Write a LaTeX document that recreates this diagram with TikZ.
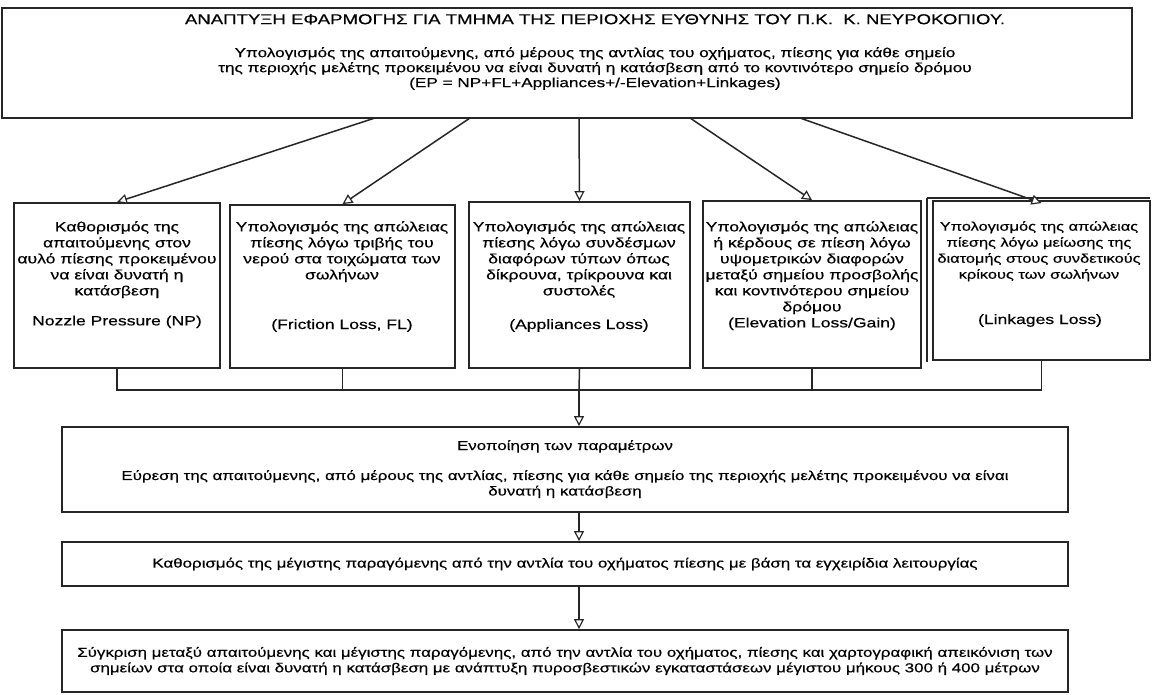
\documentclass[tikz,border=0pt]{standalone}
\usepackage{fontspec}
\setmainfont{Liberation Sans}[FakeStretch=1.3,FakeBold=0.4]
\usetikzlibrary{arrows.meta,fit}
\begin{document}
\begin{tikzpicture}[x=1pt,y=-1pt,
  boxf/.style={draw=black!85,line width=1.8pt,inner sep=0pt,fit={#1}},
  txt/.style={align=center,inner sep=0pt,font=\fontsize{13.5}{16}\selectfont,text=black},
  wide/.style={font=\fontsize{13}{15.5}\selectfont},
  conn/.style={draw=black!85,line width=1.5pt},
  arr/.style={conn,-{Triangle[length=10pt,width=10pt,fill=white,line width=1.2pt]}}]
\useasboundingbox (0,0) rectangle (1152,695);
\fill[white] (0,0) rectangle (1152,695);
% top box
\node[boxf={(2,8) (1132,118)}] (top) {};
\node[txt,anchor=north,font=\fontsize{14.3}{16}\selectfont] (t1) at (595,14) {ΑΝΑΠΤΥΞΗ ΕΦΑΡΜΟΓΗΣ ΓΙΑ ΤΜΗΜΑ ΤΗΣ ΠΕΡΙΟΧΗΣ ΕΥΘΥΝΗΣ ΤΟΥ Π.Κ.\ \ Κ. ΝΕΥΡΟΚΟΠΙΟΥ.};
\node[txt,anchor=north,font=\fontsize{13.2}{15}\selectfont] (t2) at (595,47) {Υπολογισμός της απαιτούμενης, από μέρους της αντλίας του οχήματος, πίεσης για κάθε σημείο\\ της περιοχής μελέτης προκειμένου να είναι δυνατή η κατάσβεση από το κοντινότερο σημείο δρόμου\\ (EP = NP+FL+Appliances+/-Elevation+Linkages)};
% five boxes
\node[boxf={(14,203) (220,368)}] (b1) {};
\node[boxf={(230,205) (455,368)}] (b2) {};
\node[boxf={(469,202) (690,368)}] (b3) {};
\node[boxf={(703,201) (921,368)}] (b4) {};
\draw[black!85,line width=1.2pt] (927,198) -- (1150,198) (927,198) -- (927,362);
\node[boxf={(933,201) (1150,360)}] (b5) {};
\node[txt,anchor=north] (l1) at (117,221) {Καθορισμός της\\ απαιτούμενης στον\\ αυλό πίεσης προκειμένου\\ να είναι δυνατή η\\ κατάσβεση\\[14pt] Nozzle Pressure (NP)};
\node[txt,anchor=north] (l2) at (342,221) {Υπολογισμός της απώλειας\\ πίεσης λόγω τριβής του\\ νερού στα τοιχώματα των\\ σωλήνων};
\node[txt,anchor=base] (m2) at (342,329) {(Friction Loss, FL)};
\node[txt,anchor=north] (l3) at (579,221) {Υπολογισμός της απώλειας\\ πίεσης λόγω συνδέσμων\\ διαφόρων τύπων όπως\\ δίκρουνα, τρίκρουνα και\\ συστολές};
\node[txt,anchor=base] (m3) at (579,329) {(Appliances Loss)};
\node[txt,anchor=north] (l4) at (812,221) {Υπολογισμός της απώλειας\\ ή κέρδους σε πίεση λόγω\\ υψομετρικών διαφορών\\ μεταξύ σημείου προσβολής\\ και κοντινότερου σημείου\\ δρόμου\\ (Elevation Loss/Gain)};
\node[txt,anchor=north,font=\fontsize{12.6}{16}\selectfont] (l5) at (1039,221) {Υπολογισμός της απώλειας\\ πίεσης λόγω μείωσης της\\ διατομής στους συνδετικούς\\ κρίκους των σωλήνων};
\node[txt,anchor=base] (m5) at (1040,324) {(Linkages Loss)};
% arrows from top
\coordinate (s1) at (375,118);
\coordinate (s2) at (470,118);
\coordinate (s3) at (579,118);
\coordinate (s4) at (690,118);
\coordinate (s5) at (800,118);
\draw[arr] (s1) -- (b1.north);
\draw[arr] (s2) -- (b2.north);
\draw[arr] (s3) -- (b3.north);
\draw[arr] (s4) -- (b4.north);
\draw[arr] (s5) -- ([yshift=-3pt]b5.north);
% joiner
\coordinate (j) at (579,390);
\draw[conn] (b1.south) -- (b1.south |- j) -- (b5.south |- j) -- (b5.south);
\draw[conn] (b2.south) -- (b2.south |- j);
\draw[conn] (b4.south) -- (b4.south |- j);
\draw[conn] (b3.south) -- (j);
% lower boxes
\node[boxf={(62,427) (1068,512)}] (b6) {};
\node[boxf={(62,542) (1068,586)}] (b7) {};
\node[boxf={(62,630) (1068,692)}] (b8) {};
\draw[arr] (j) -- (j |- b6.north);
\draw[arr] (j |- b6.south) -- (j |- b7.north);
\draw[arr] (j |- b7.south) -- (j |- b8.north);
\node[txt,wide,anchor=base] (l6) at (565,450) {Ενοποίηση των παραμέτρων};
\node[txt,wide,anchor=north] (l6b) at (565,470) {Εύρεση της απαιτούμενης, από μέρους της αντλίας, πίεσης για κάθε σημείο της περιοχής μελέτης προκειμένου να είναι\\ δυνατή η κατάσβεση};
\node[txt,wide] (l7) at (b7.center) {Καθορισμός της μέγιστης παραγόμενης από την αντλία του οχήματος πίεσης με βάση τα εγχειρίδια λειτουργίας};
\node[txt,wide] (l8) at (b8.center) {Σύγκριση μεταξύ απαιτούμενης και μέγιστης παραγόμενης, από την αντλία του οχήματος, πίεσης και χαρτογραφική απεικόνιση των\\ σημείων στα οποία είναι δυνατή η κατάσβεση με ανάπτυξη πυροσβεστικών εγκαταστάσεων μέγιστου μήκους 300 ή 400 μέτρων};
\end{tikzpicture}
\end{document}
